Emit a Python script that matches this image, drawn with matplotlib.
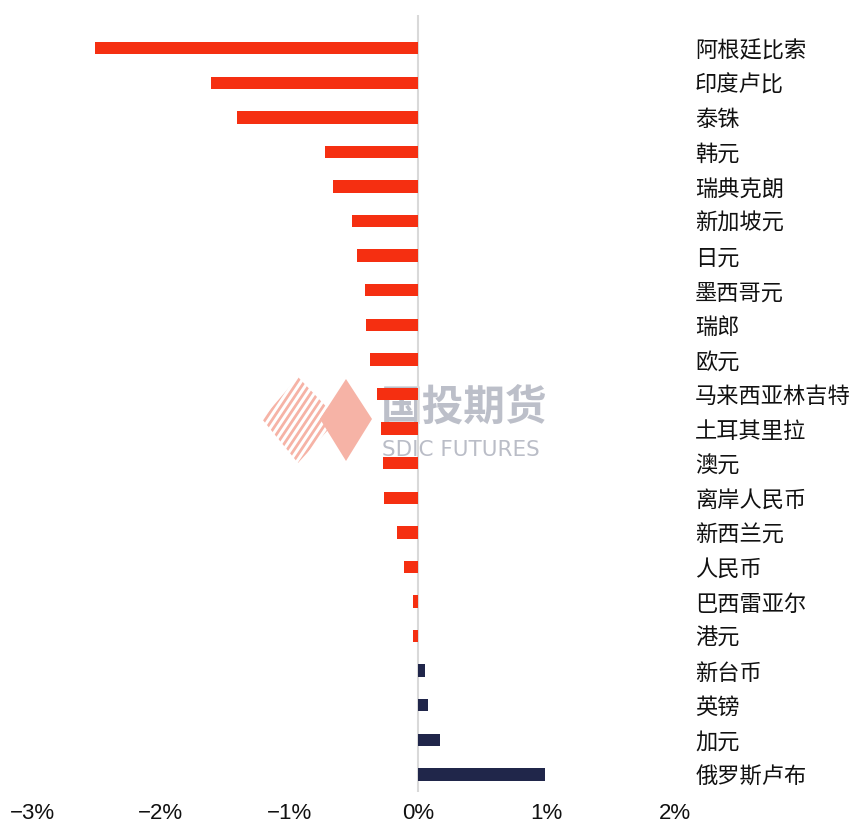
import matplotlib
matplotlib.use('Agg')
import matplotlib.pyplot as plt
from matplotlib.patches import Polygon
import numpy as np

currencies = ['阿根廷比索', '印度卢比', '泰铢', '韩元', '瑞典克朗', '新加坡元', '日元',
              '墨西哥元', '瑞郎', '欧元', '马来西亚林吉特', '土耳其里拉', '澳元',
              '离岸人民币', '新西兰元', '人民币', '巴西雷亚尔', '港元', '新台币',
              '英镑', '加元', '俄罗斯卢布']
changes = [-2.51, -1.61, -1.41, -0.72, -0.66, -0.51, -0.47, -0.415, -0.40, -0.37,
           -0.32, -0.285, -0.275, -0.265, -0.16, -0.105, -0.04, -0.04,
           0.055, 0.078, 0.175, 0.99]
x_ticks = [-3, -2, -1, 0, 1, 2]
x_tick_labels = ['−3%', '−2%', '−1%', '0%', '1%', '2%']

RED = '#F52F11'
NAVY = '#20264A'

W, H = 856, 823
fig = plt.figure(figsize=(W / 100, H / 100), dpi=100)
fig.patch.set_facecolor('white')

# watermark (behind everything)
wm_ax = fig.add_axes([0, 0, 1, 1], zorder=0)
wm_ax.set_xlim(0, W)
wm_ax.set_ylim(H, 0)
wm_ax.axis('off')
pink = '#F6B3A6'
diamond = Polygon([(346, 379), (372, 419), (346, 461), (320, 419)], closed=True,
                  facecolor=pink, edgecolor='none')
wm_ax.add_patch(diamond)
clip = Polygon([(298, 377), (338, 419), (298, 463), (262, 419)], closed=True,
               facecolor='none', edgecolor='none')
wm_ax.add_patch(clip)
for k in range(-6, 7):
    x0 = 300 + k * 7
    ln, = wm_ax.plot([x0 - 30, x0 + 30], [465, 375], color=pink, lw=2.0,
                     solid_capstyle='butt')
    ln.set_clip_path(clip)
wm_ax.text(381, 408, '国投期货', fontsize=30, color='#B5B8C3', alpha=0.9,
           family=['Noto Sans CJK SC'], fontweight='bold', va='center', ha='left')
wm_ax.text(382, 450, 'SDIC FUTURES', fontsize=15.5, color='#BABDC7',
           family=['DejaVu Sans'], va='center', ha='left')

ax = fig.add_axes([32.1 / W, 1 - 791.7 / H, 643 / W, (791.7 - 15) / H], zorder=1)
ax.patch.set_alpha(0)

y = np.arange(len(currencies))
colors = [RED if v < 0 else NAVY for v in changes]
ax.barh(y, changes, height=0.36, color=colors, zorder=3)
ax.axvline(0, color='#D9D9D9', lw=1.5, zorder=2)

ax.set_xlim(-3, 2)
ax.set_ylim(len(currencies) - 0.5, -0.96)

for s in ax.spines.values():
    s.set_visible(False)

ax.set_xticks(x_ticks)
ax.set_xticklabels(x_tick_labels, family=['Liberation Sans'], fontsize=16, color='#111111')
ax.tick_params(axis='x', length=0, pad=8)

ax.yaxis.tick_right()
ax.set_yticks(y)
ax.set_yticklabels(currencies, family=['Noto Sans CJK SC', 'DejaVu Sans'], fontsize=16,
                   color='#111111')
ax.tick_params(axis='y', length=0, pad=14.4)

fig.savefig('out.png', dpi=100, facecolor='white')
